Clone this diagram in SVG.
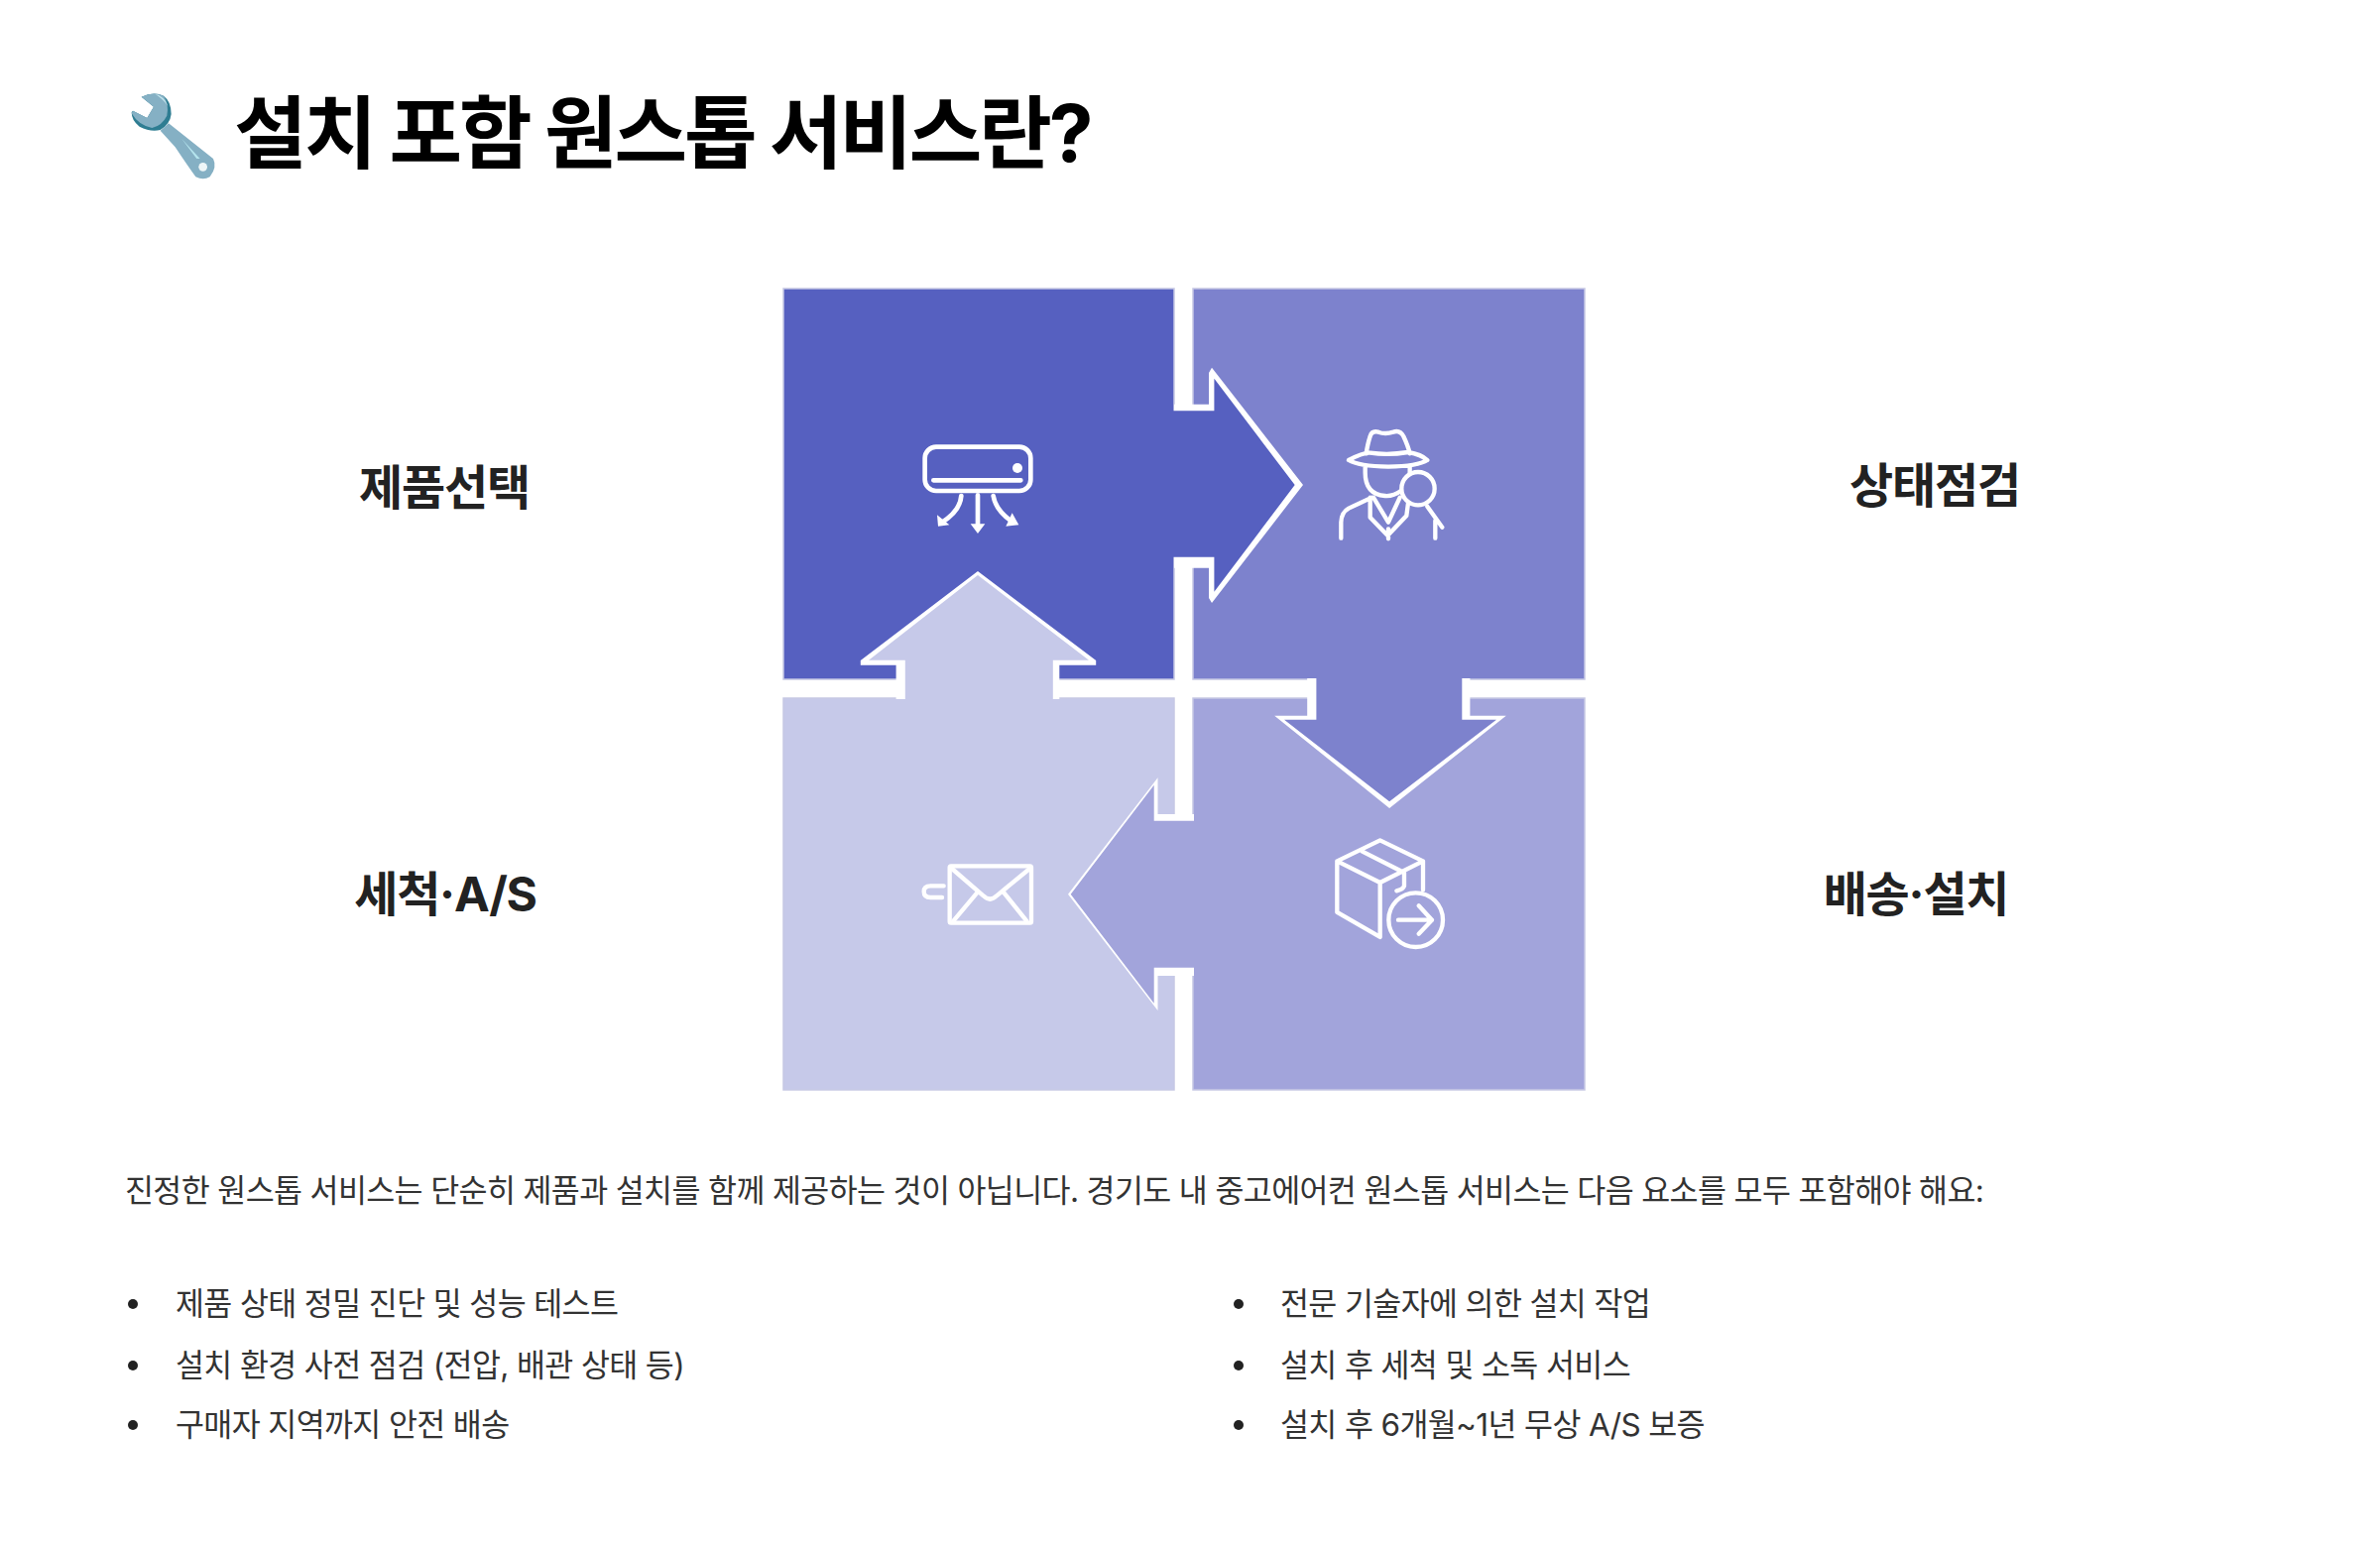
<svg xmlns="http://www.w3.org/2000/svg" width="2400" height="1560" viewBox="0 0 2400 1560">
<style>
text{font-family:Inter,"Noto Sans CJK KR",sans-serif}
.title{font-size:80px;font-weight:700;fill:#000;letter-spacing:-3.2px}
.label{font-size:48px;font-weight:700;fill:#222;text-anchor:middle;letter-spacing:-1.2px}
.body{font-size:31.5px;font-weight:400;fill:#333;letter-spacing:-0.63px}
.sq{stroke:#c6c8e4;stroke-width:1.5}
.ic{fill:none;stroke:#fff;stroke-linecap:round;stroke-linejoin:round}
.ol{fill:#fff}
</style>
<rect width="2400" height="1560" fill="#fff"/>
<g id="wrench" transform="translate(120,85) scale(0.3333)">
<path d="M68 38Q105 20 135 35Q158 52 158 90Q155 120 125 138Q95 145 62 128Q38 110 38 85L42 80L85 102L105 68Z" fill="#2e7d92"/>
<path d="M125 140L150 118L285 225Q298 250 275 280Q255 292 232 280Q210 250 170 190Z" fill="#85b0c4"/>
<path d="M68 38Q105 20 135 35Q152 60 145 95Q130 125 100 132Q60 125 38 88L42 80L85 102L105 68Z" fill="#85b0c4"/>
<path d="M110 30Q135 35 148 65Q130 42 110 30Z" fill="#c3e6ee"/>
<path d="M190 165L245 225L235 225Z" fill="#b5e5ee"/>
<circle cx="254" cy="250" r="13" fill="#eef6f8"/>
</g>
<text id="title" class="title" x="236" y="163">설치 포함 원스톱 서비스란?</text>
<g id="node-tl"><rect class="sq" x="790" y="291" width="394" height="394" fill="#5660c0"/></g>
<g id="node-tr"><rect class="sq" x="1203" y="291" width="395" height="394" fill="#7d82cd"/></g>
<g id="node-bl"><rect class="sq" x="790" y="704" width="394" height="395" fill="#c6c9e9"/></g>
<g id="node-br"><rect class="sq" x="1203" y="704" width="395" height="395" fill="#a2a4db"/></g>
<g id="connectors">
<polygon class="ol" points="1184,407.7 1219,407.7 1219,376 1222,370.7 1314,489 1222,608 1219,603 1219,572.7 1184,572.7"/>
<polygon fill="#5660c0" points="1180,414.3 1224.4,414.3 1224.4,381.7 1305.7,489 1224.4,596.7 1224.4,561.7 1180,561.7"/>
<polygon class="ol" points="1318.2,684 1318.2,721.7 1285.2,721.7 1401.1,815 1518.8,721.7 1482.4,721.7 1482.4,684"/>
<polygon fill="#7d82cd" points="1327.4,681 1327.4,725.7 1295,725.7 1401.1,808.3 1509,725.7 1474.3,725.7 1474.3,681"/>
<polygon class="ol" points="1204,821 1167.5,821 1167.5,784.3 1077,901.7 1167.5,1019 1167.5,984 1204,984"/>
<polygon fill="#a2a4db" points="1207,827.7 1163.7,827.7 1163.7,791.7 1079.7,901.7 1163.7,1011.7 1163.7,975.7 1207,975.7"/>
<polygon class="ol" points="903.6,705 903.6,670.7 867.8,670.7 867.8,666 986,576 1105.2,666 1105.2,670.7 1068.3,670.7 1068.3,705"/>
<polygon fill="#c6c9e9" points="912.8,708 912.8,665.7 876,665.7 986,580 1098,665.7 1061.8,665.7 1061.8,708"/>
</g>
<g id="icon-ac" transform="translate(900,430) scale(0.3333)">
<rect class="ic" x="98" y="62" width="320" height="133" rx="34" stroke-width="14"/>
<path class="ic" d="M124 163H388M258 208V300M208 210Q205 255 150 290M305 210Q312 255 365 290" stroke-width="14"/>
<circle cx="378" cy="126" r="15" fill="#fff"/>
<path d="M236 295L280 295L258 324ZM135 268L172 298L138 302ZM343 302L382 298L362 262Z" fill="#fff"/>
</g>
<g id="icon-detective" transform="translate(1340,420) scale(0.3333)">
<path class="ic" stroke-width="13" d="M113 112Q118 80 125 60Q130 42 150 47Q170 55 195 47Q215 40 226 60Q240 90 245 112M60 132Q105 108 125 110Q180 118 240 108Q280 115 298 132Q270 150 180 152Q90 150 60 132ZM110 150V170Q110 235 170 240Q195 242 218 225M245 150V170M37 368V320Q38 290 60 278L130 245M125 245V305L178 360L235 300L240 262M135 245L180 320L215 245M180 340V370M298 272L343 335M322 315V368"/>
<circle class="ic" stroke-width="13" cx="270" cy="218" r="50"/>
</g>
<g id="icon-box" transform="translate(1340,840) scale(0.3333)">
<path class="ic" stroke-width="13" d="M155 22L285 85L155 150L25 85ZM25 85V240L155 315V150M285 85V172M100 55L228 120V160Q225 170 205 175M210 263H312M272 220L312 263L272 305"/>
<circle class="ic" stroke-width="13" cx="263" cy="263" r="82"/>
</g>
<g id="icon-mail" transform="translate(920,860) scale(0.3333)">
<rect class="ic" stroke-width="13" x="113" y="40" width="247" height="172" rx="4"/>
<path class="ic" stroke-width="13" d="M120 48L215 130Q235 150 255 130L355 48M125 205L195 122M345 205L275 118M95 100H55Q35 100 35 117Q35 135 55 135H90"/>
</g>
<text class="label" x="448" y="509">제품선택</text>
<text class="label" x="1951" y="507">상태점검</text>
<text class="label" x="449" y="919">세척·A/S</text>
<text class="label" x="1932" y="919">배송·설치</text>
<text class="body" x="126" y="1212">진정한 원스톱 서비스는 단순히 제품과 설치를 함께 제공하는 것이 아닙니다. 경기도 내 중고에어컨 원스톱 서비스는 다음 요소를 모두 포함해야 해요:</text>
<g fill="#222"><circle cx="134" cy="1315" r="5"/><circle cx="134" cy="1377" r="5"/><circle cx="134" cy="1437" r="5"/><circle cx="1249" cy="1315" r="5"/><circle cx="1249" cy="1377" r="5"/><circle cx="1249" cy="1437" r="5"/></g>
<text class="body" x="177" y="1326">제품 상태 정밀 진단 및 성능 테스트</text>
<text class="body" x="177" y="1388">설치 환경 사전 점검 (전압, 배관 상태 등)</text>
<text class="body" x="177" y="1448">구매자 지역까지 안전 배송</text>
<text class="body" x="1291" y="1326">전문 기술자에 의한 설치 작업</text>
<text class="body" x="1291" y="1388">설치 후 세척 및 소독 서비스</text>
<text class="body" x="1291" y="1448">설치 후 6개월~1년 무상 A/S 보증</text>
</svg>
